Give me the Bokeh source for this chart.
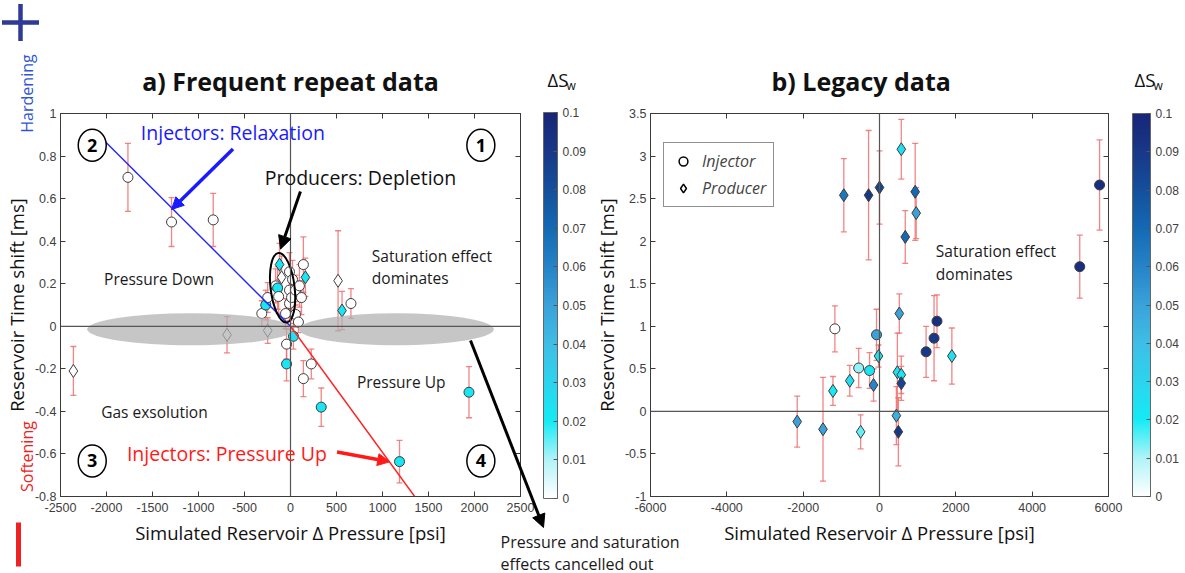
import numpy as np
from bokeh.plotting import figure
from bokeh.models import (ColumnDataSource, LinearColorMapper, ColorBar, FixedTicker,
                          NumeralTickFormatter, Span, Label, Arrow, NormalHead,
                          Legend, LegendItem, LinearAxis, Range1d)
from bokeh.layouts import row, column
from bokeh.transform import transform
from bokeh.embed import file_html
from bokeh.resources import INLINE
from bokeh.core.properties import value

# ---------------- panel a: frequent repeat data ----------------
a_inj_dp = [-1767, -1293, -840, -312, -269, -248, -162, -140, -129, -54, -11, -11, -11, 11, 22,
            54, 54, 86, 97, 119, 140, 32, -43, -43, 140, 226, 334, 657, 1185, 1940]
a_inj_dt = [0.70, 0.49, 0.50, 0.06, 0.10, 0.135, 0.19, 0.18, 0.14, 0.06, 0.256, 0.17, 0.107, 0.135, 0.22,
            0.17, 0.056, 0.02, 0.19, 0.135, 0.29, -0.047, -0.084, -0.177, -0.246, -0.177, -0.38, 0.107, -0.636, -0.31]
a_inj_err = [0.16, 0.115, 0.125, 0.06, 0.07, 0.07, 0.08, 0.10, 0.08, 0.07, 0.09, 0.09, 0.08, 0.10, 0.09,
             0.07, 0.06, 0.05, 0.10, 0.08, 0.13, 0.06, 0.07, 0.08, 0.085, 0.07, 0.09, 0.07, 0.10, 0.12]
a_inj_dsw = [0, 0, 0, 0, 0.022, 0, 0, 0.022, 0, 0, 0, 0, 0, 0, 0,
             0, 0, 0, 0, 0, 0, 0.022, 0, 0.022, 0, 0, 0.022, 0, 0.022, 0.022]

a_prod_dp = [-2360, -690, -248, -119, -97, 162, 517, 560]
a_prod_dt = [-0.21, -0.04, -0.02, 0.29, 0.23, 0.23, 0.214, 0.074]
a_prod_err = [0.115, 0.085, 0.06, 0.10, 0.10, 0.09, 0.235, 0.09]
a_prod_dsw = [0, 0, 0, 0.022, 0, 0.022, 0, 0.022]

# trend lines (injectors relaxation / pressure up)
relax_dp = [-2015, 0]
relax_dt = [0.868, 0]
pup_dp = [0, 1350]
pup_dt = [0, -0.8]

# ---------------- panel b: legacy data ----------------
b_inj_dp = [-1169, -545, -260, -78, 1221, 1429, 1506, 5247, 5766]
b_inj_dt = [0.97, 0.51, 0.48, 0.90, 0.70, 0.86, 1.06, 1.70, 2.66]
b_inj_err = [0.27, 0.23, 0.21, 0.30, 0.30, 0.50, 0.31, 0.37, 0.53]
b_inj_dsw = [0.0, 0.012, 0.022, 0.05, 0.09, 0.09, 0.095, 0.095, 0.095]

b_prod_dp = [-2156, -1480, -1220, -779, -494, -156, -26, 442, 468, 519, 571, 571, 494, 1896,
             -935, -286, 0, 571, 675, 935, 961]
b_prod_dt = [-0.12, -0.21, 0.24, 0.36, -0.24, 0.31, 0.65, -0.05, 0.46, 1.15, 0.43, 0.33, -0.24, 0.65,
             2.54, 2.54, 2.63, 3.08, 2.05, 2.58, 2.33]
b_prod_err = [0.30, 0.61, 0.17, 0.18, 0.20, 0.19, 0.13, 0.34, 0.46, 0.23, 0.22, 0.20, 0.40, 0.33,
              0.43, 0.76, 0.43, 0.35, 0.31, 0.57, 0.30]
b_prod_dsw = [0.05, 0.05, 0.02, 0.025, 0.015, 0.06, 0.025, 0.045, 0.025, 0.05, 0.022, 0.085, 0.09, 0.025,
              0.065, 0.09, 0.085, 0.025, 0.07, 0.07, 0.05]

# ticks
a_xticks = [-2500, -2000, -1500, -1000, -500, 0, 500, 1000, 1500, 2000, 2500]
a_yticks = [-0.8, -0.6, -0.4, -0.2, 0, 0.2, 0.4, 0.6, 0.8, 1]
b_xticks = [-6000, -4000, -2000, 0, 2000, 4000, 6000]
b_yticks = [-1, -0.5, 0, 0.5, 1, 1.5, 2, 2.5, 3, 3.5]
cb_ticks = [0, 0.01, 0.02, 0.03, 0.04, 0.05, 0.06, 0.07, 0.08, 0.09, 0.1]

# colormap (white -> cyan -> navy)
cmap_pos = [0.0, 0.01, 0.02, 0.03, 0.04, 0.05, 0.06, 0.07, 0.08, 0.09, 0.10]
cmap_rgb = [(255, 255, 255), (175, 243, 248), (20, 235, 245), (45, 212, 238), (62, 190, 230),
            (58, 162, 218), (38, 132, 200), (20, 106, 180), (20, 80, 156), (24, 56, 136), (24, 38, 120)]


def build_palette(n=256):
    xs = np.linspace(0, 0.1, n)
    arr = np.array(cmap_rgb, float)
    ch = [np.interp(xs, cmap_pos, arr[:, i]) for i in range(3)]
    return ["#%02x%02x%02x" % (int(round(r)), int(round(g)), int(round(b))) for r, g, b in zip(*ch)]


palette = build_palette()
mapper = LinearColorMapper(palette=palette, low=0, high=0.1)

AX = "#3a3a3a"
TICK_FONT = "Liberation Sans"
TEXT_FONT = "Open Sans"
ERR = "#f07070"


def style_axis(ax, show_labels=True):
    ax.axis_line_color = AX
    ax.major_tick_line_color = AX
    ax.major_tick_in = 5
    ax.major_tick_out = 0
    ax.minor_tick_line_color = None
    ax.major_label_text_font = TICK_FONT
    ax.major_label_text_font_size = "12.5px" if show_labels else "0px"
    ax.major_label_text_color = "#404040" if show_labels else None
    ax.axis_label_text_font = TEXT_FONT
    ax.axis_label_text_font_size = "18.5px"
    ax.axis_label_text_font_style = "normal"
    ax.axis_label_text_color = "#111111"


def add_points(p, dp, dt, err, dsw):
    src = ColumnDataSource(dict(x=dp, y=dt, lo=[a - e for a, e in zip(dt, err)],
                                hi=[a + e for a, e in zip(dt, err)], dsw=dsw))
    p.segment(x0="x", y0="lo", x1="x", y1="hi", source=src, line_color=ERR, line_width=1.3, line_alpha=0.85)
    p.scatter(x="x", y="lo", source=src, marker="dash", size=6, line_color=ERR, line_width=1.3, line_alpha=0.85)
    p.scatter(x="x", y="hi", source=src, marker="dash", size=6, line_color=ERR, line_width=1.3, line_alpha=0.85)
    return src


def draw_markers(p, src, marker, size):
    p.scatter(x="x", y="y", source=src, marker=marker, size=size,
              fill_color=transform("dsw", mapper), line_color="#3c3c3c", line_width=1)


def make_colorbar(width, height, loc):
    return ColorBar(color_mapper=mapper, ticker=FixedTicker(ticks=cb_ticks),
                    formatter=NumeralTickFormatter(format="0.[00]"),
                    width=width, height=height, padding=0, margin=0, location=loc,
                    major_tick_in=4, major_tick_out=0, major_tick_line_color="#555555",
                    bar_line_color="#666666", minor_tick_line_color=None,
                    major_label_text_font=TICK_FONT, major_label_text_font_size="12px",
                    major_label_text_color="#404040", label_standoff=5)


def frame_box(p, xticks, yticks):
    p.grid.visible = False
    p.outline_line_color = AX
    p.xaxis.ticker = FixedTicker(ticks=xticks)
    p.yaxis.ticker = FixedTicker(ticks=yticks)
    p.xaxis.formatter = NumeralTickFormatter(format="0")
    p.yaxis.formatter = NumeralTickFormatter(format="0.[0]")
    style_axis(p.xaxis[0])
    style_axis(p.yaxis[0])
    p.xaxis.axis_label = "Simulated Reservoir \u0394 Pressure [psi]"
    p.yaxis.axis_label = "Reservoir Time shift [ms]"
    p.xaxis.major_label_standoff = 6
    p.yaxis.major_label_standoff = 4
    p.xaxis.axis_label_standoff = 5
    p.yaxis.axis_label_standoff = 3
    top = LinearAxis(ticker=FixedTicker(ticks=xticks))
    style_axis(top, show_labels=False)
    top.major_label_standoff = 0
    p.add_layout(top, "above")
    right = LinearAxis(ticker=FixedTicker(ticks=yticks))
    style_axis(right, show_labels=False)
    right.major_label_standoff = 0
    p.add_layout(right, "right")
    p.add_layout(Span(location=0, dimension="height", line_color="#555555", line_width=1.2))
    p.add_layout(Span(location=0, dimension="width", line_color="#555555", line_width=1.2))
    p.title.text_font = TEXT_FONT
    p.title.text_font_size = "25px"
    p.title.text_font_style = "bold"
    p.title.align = "center"
    p.title.text_color = "#111111"
    p.title.standoff = 32


def txt(p, x, y, s, size="16px", color="#1a1a1a", align="left", angle=0.0, font=TEXT_FONT, style="normal"):
    p.add_layout(Label(x=x, y=y, text=s, text_font=font, text_font_size=size, text_color=color,
                       text_align=align, text_baseline="middle", angle=angle, text_font_style=style))


# ================= figure a =================
pa = figure(width=590, height=573, x_range=Range1d(-2500, 2500), y_range=Range1d(-0.8, 1),
            output_backend="svg", toolbar_location=None, title="a) Frequent repeat data",
            min_border_left=56, min_border_right=70, min_border_top=111, min_border_bottom=75)

src_ai = add_points(pa, a_inj_dp, a_inj_dt, a_inj_err, a_inj_dsw)
src_ap = add_points(pa, a_prod_dp, a_prod_dt, a_prod_err, a_prod_dsw)
draw_markers(pa, src_ai, "circle", 10)
draw_markers(pa, src_ap, "diamond", 13)

# grey zones where pressure and saturation effects cancel
pa.ellipse(x=[-1085, 1150], y=[-0.014, -0.014], width=[2250, 2120], height=[0.15, 0.15],
           fill_color="#b0b0b0", fill_alpha=0.72, line_color=None)
frame_box(pa, a_xticks, a_yticks)

pa.line(relax_dp, relax_dt, line_color="#2323ff", line_width=1.4)
pa.line(pup_dp, pup_dt, line_color="#ff2222", line_width=1.4)
pa.ellipse(x=[-86], y=[0.181], width=24, height=70, width_units="screen", height_units="screen",
           angle=0.12, fill_color=None, line_color="black", line_width=2)

# quadrant markers
quad_x = [2069, -2155, -2155, 2069]
quad_y = [0.851, 0.851, -0.633, -0.633]
quad_t = ["1", "2", "3", "4"]
pa.ellipse(x=quad_x, y=quad_y, width=28, height=32, width_units="screen", height_units="screen",
           fill_color="white", line_color="black", line_width=1.5)
pa.text(x=quad_x, y=quad_y, text=quad_t, text_font=value(TEXT_FONT), text_font_style="bold",
        text_font_size="18px", text_align="center", text_baseline="middle", text_color="black")

txt(pa, -1627, 0.912, "Injectors: Relaxation", size="19.5px", color="#1a1aff")
txt(pa, -280, 0.698, "Producers: Depletion", size="19.5px", color="#111111")
txt(pa, -2026, 0.223, "Pressure Down", size="15.5px")
txt(pa, 884, 0.33, "Saturation effect", size="15.5px")
txt(pa, 884, 0.228, "dominates", size="15.5px")
txt(pa, 722, -0.26, "Pressure Up", size="15.5px")
txt(pa, -2058, -0.405, "Gas exsolution", size="15.5px")
txt(pa, -1778, -0.60, "Injectors: Pressure Up", size="19.5px", color="#ff1a1a")

pa.add_layout(Arrow(end=NormalHead(size=13, fill_color="black", line_color="black"),
                    x_start=108, y_start=0.633, x_end=-108, y_end=0.363, line_width=3, line_color="black"))
pa.add_layout(Arrow(end=NormalHead(size=12, fill_color="#1a1aff", line_color="#1a1aff"),
                    x_start=-625, y_start=0.833, x_end=-1293, y_end=0.549, line_width=3.5, line_color="#1a1aff"))
pa.add_layout(Arrow(end=NormalHead(size=12, fill_color="#ff1a1a", line_color="#ff1a1a"),
                    x_start=506, y_start=-0.591, x_end=1078, y_end=-0.637, line_width=3.5, line_color="#ff1a1a"))

# ================= figure b =================
pb = figure(width=595, height=573, x_range=Range1d(-6000, 6000), y_range=Range1d(-1, 3.5),
            output_backend="svg", toolbar_location=None, title="b) Legacy data",
            min_border_left=59, min_border_right=77, min_border_top=113, min_border_bottom=77)

src_bi = add_points(pb, b_inj_dp, b_inj_dt, b_inj_err, b_inj_dsw)
src_bp = add_points(pb, b_prod_dp, b_prod_dt, b_prod_err, b_prod_dsw)
draw_markers(pb, src_bi, "circle", 10)
draw_markers(pb, src_bp, "diamond", 13)
frame_box(pb, b_xticks, b_yticks)
pb.title.align = "left"
pb.title.offset = 121

txt(pb, 1477, 1.88, "Saturation effect", size="15.5px")
txt(pb, 1477, 1.62, "dominates", size="15.5px")

# legend (symbols only, drawn off-range so they do not show in the plot)
leg_c = pb.scatter([-1e7], [-1e7], marker="circle", size=11, fill_color="white", line_color="black", line_width=1.5)
leg_d = pb.scatter([-1e7], [-1e7], marker="diamond", size=14, fill_color="white", line_color="black", line_width=1.5)
legend = Legend(items=[LegendItem(label="Injector", renderers=[leg_c]),
                       LegendItem(label="Producer", renderers=[leg_d])],
                location=(13, 289), label_text_font=TEXT_FONT, label_text_font_style="italic",
                label_text_font_size="16px", border_line_color="#222222", border_line_width=1,
                padding=7, spacing=5, glyph_width=24, glyph_height=22, label_standoff=7, margin=0)
pb.add_layout(legend)

# ================= overlay for the page margins (pixel coordinates) =================
ov = figure(width=1185, height=573, x_range=Range1d(0, 1185), y_range=Range1d(573, 0),
            x_axis_type=None, y_axis_type=None, output_backend="svg", toolbar_location=None,
            min_border=0, margin=(-573, 0, 0, 0))
ov.outline_line_color = None
ov.background_fill_color = None
ov.border_fill_color = None
ov.grid.visible = False

# colour bars (Delta S_w), positioned beside each panel
ov.add_layout(make_colorbar(14, 386, (543, 75)))
ov.add_layout(make_colorbar(18, 383, (1132, 77)))

# "+" (hardening) and "-" (softening) signs
ov.scatter(x=[20], y=[22], marker="cross", size=37, line_width=4.5, line_color="#2e3a94")
ov.scatter(x=[18], y=[544], marker="dash", angle=np.pi / 2, size=44, line_width=5, line_color="#ee2222")
txt(ov, 26, 93, "Hardening", size="16px", color="#2f55d4", align="center", angle=np.pi / 2)
txt(ov, 26, 456, "Softening", size="16px", color="#ee2222", align="center", angle=np.pi / 2)
txt(ov, 547, 79, "\u0394S", size="18.5px", color="#111111")
txt(ov, 566, 85, "w", size="12px", color="#111111")
txt(ov, 1134, 79, "\u0394S", size="18.5px", color="#111111")
txt(ov, 1153, 85, "w", size="12px", color="#111111")
txt(ov, 500, 541, "Pressure and saturation", size="16px")
txt(ov, 500, 563, "effects cancelled out", size="16px")
ov.add_layout(Arrow(end=NormalHead(size=13, fill_color="black", line_color="black"),
                    x_start=470, y_start=340, x_end=543, y_end=527, line_width=3, line_color="black"))

layout = column(row(pa, pb), ov)
open("out.html", "w").write(file_html(layout, INLINE))
